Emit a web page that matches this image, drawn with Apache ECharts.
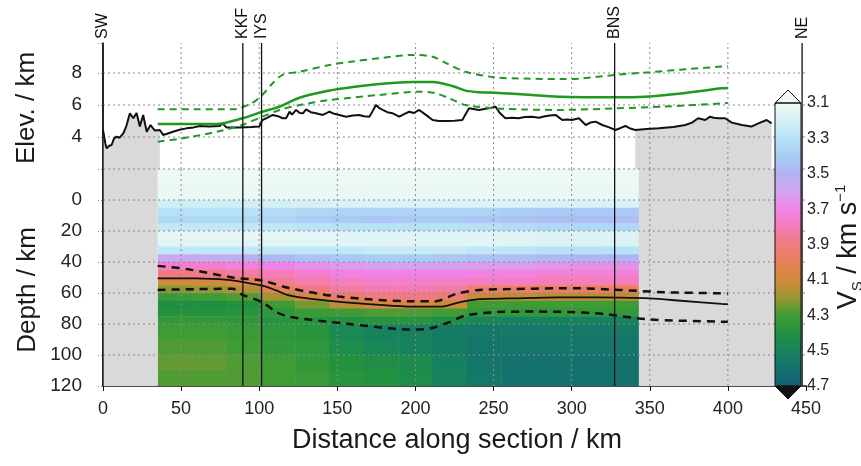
<!DOCTYPE html>
<html>
<head>
<meta charset="utf-8">
<script src="https://cdn.jsdelivr.net/npm/echarts@6/dist/echarts.min.js"></script>
<style>
  html, body { margin: 0; padding: 0; background: #fff; }
  #chart { width: 861px; height: 466px; }
</style>
</head>
<body>
<div id="chart"></div>
<script>
// stations along the profile (km)
var stationNames = ['SW', 'KKF', 'IYS', 'BNS', 'NE'];
var stationKm = [0, 89.5, 101.5, 327.5, 447.5];

// topography (km along section, elevation km)
var topography = [[0,4.44],[1.5,3.6],[2.3,3.29],[4,3.45],[5.5,3.5],[7,3.9],[8.7,4.02],[10.5,3.95],[13,4.23],[15,4.7],
  [17.2,5.48],[19.4,5.17],[21.5,5.5],[23.6,4.65],[25.7,5.38],[28,4.33],[30.4,4.75],[33.2,4.4],[36.4,4.44],[38.5,4.13],
  [41,4.2],[44.8,4.33],[49,4.45],[53.4,4.54],[58,4.6],[62,4.69],[68,4.65],[74.7,4.69],[76.5,4.85],[79,4.6],[87.5,4.6],
  [95,4.62],[100,4.65],[102,5.06],[105,5.2],[108.6,5.38],[112,5.3],[115,5.17],[117.2,5.17],[119.4,5.58],[121,5.4],
  [123.6,5.69],[126,5.5],[128,5.48],[130,5.73],[133,5.55],[136.4,5.48],[140.7,5.38],[145,5.58],[148,5.45],[151.3,5.38],
  [155.6,5.27],[160,5.35],[164,5.38],[167,5.3],[170.5,5.27],[172.5,5.6],[174.7,6.0],[177,5.8],[179,5.69],[182,5.55],
  [185.4,5.48],[189.7,5.27],[193,5.45],[196,5.58],[199,5.5],[202.4,5.69],[206.7,5.38],[211,5.06],[215,5.0],[219.5,5.0],
  [225,5.02],[230,5.06],[232,5.4],[234.3,5.79],[237,5.75],[240.7,5.69],[244,5.75],[247,5.79],[251.2,5.9],[254,5.5],
  [257.6,5.17],[262,5.2],[266,5.17],[270,5.25],[274.6,5.27],[279,5.2],[283,5.3],[286,5.35],[289.7,5.38],[294,5.06],
  [297,5.1],[300.3,5.06],[304.6,5.17],[309,4.75],[312,4.9],[315.3,4.96],[319.6,4.75],[324,4.6],[328,4.44],[331,4.55],
  [334.4,4.69],[337,4.55],[340.7,4.44],[348,4.5],[355.7,4.54],[365,4.62],[372.7,4.75],[377,4.9],[381,5.17],[385.5,5.06],
  [388.6,5.27],[391,5.2],[394,5.17],[398.2,5.17],[402.5,4.9],[409,4.75],[415,4.65],[419.5,4.85],[424.8,5.06],[428,4.85]];

// green curves in the elevation panel
var greenMid = [[35,4.81],[50,4.81],[72.8,4.81],[89.4,5.17],[102,5.58],[113,5.9],[125.8,6.45],[145,6.9],[160,7.12],
  [177,7.31],[198,7.44],[211,7.44],[223.5,7.19],[232,6.9],[241,6.8],[251,6.77],[270,6.65],[292,6.52],[328,6.48],
  [347,6.52],[370,6.72],[396,7.04],[400,7.07]];
var greenUpper = [[35,5.73],[60,5.73],[83,5.73],[95,6.1],[102,6.63],[108,7.3],[115,7.88],[126,8.08],[145,8.5],
  [160,8.72],[177,8.92],[198,9.13],[211,9.02],[220,8.6],[232,8.08],[251,7.73],[270,7.65],[292,7.62],[305,7.65],
  [328,7.88],[350,8.05],[375,8.25],[396,8.4],[400,8.42]];
var greenLower = [[35,3.71],[50,3.9],[72.8,4.33],[89,4.75],[102,5.27],[113,5.69],[126,6.0],[145,6.31],[177,6.63],
  [202.5,6.83],[213,6.73],[222,6.4],[232,6.0],[251,5.79],[270,5.72],[292,5.69],[328,5.79],[360,5.9],[396,6.1],[400,6.12]];

// Moho depth and its bounds (km)
var mohoMid = [[35,50.5],[60,50.5],[80,51.5],[90,53],[102,55.3],[110,58],[119,61.5],[135,64],[150,65.5],[175,67.5],
  [198,68.8],[217,68.8],[228,66],[241,64],[260,63.5],[292,62.8],[305,62.8],[330,63],[350,63.5],[370,65],[396,67],[400,67.2]];
var mohoUpper = [[35,42.5],[54,44.6],[83,50],[102,52],[119,56.8],[151,62.3],[198,65.3],[213,65.3],[226,60.6],[241,58],
  [260,57.5],[292,57],[305,57],[330,58],[360,59.5],[396,60.2],[400,60.3]];
var mohoLower = [[35,58],[60,57.5],[83,57.3],[89,61],[102,66],[111,72.3],[119,75.3],[156,79.8],[198,83.6],[209,83],
  [222,78.7],[232,74.5],[253,72.3],[279,72],[300,72.3],[320,73.5],[349,77],[396,78.5],[400,78.6]];

// Vs model: column edges (km), depth edges (km), one row of Vs per depth band
var colEdges = [35,57,79,101,123,145,167,189,211,233,255,277,299,321,343];
var depthEdges = [-20,-10,0,5,10,15,20,25,30,35,40,45,50,55,60,65,70,75,80,90,100,110,120];
var vsRows = [
  [3.1,3.1,3.1,3.1,3.1,3.1,3.1,3.1,3.1,3.1,3.1,3.1,3.1,3.1],
  [3.12,3.12,3.12,3.12,3.12,3.12,3.12,3.12,3.12,3.12,3.12,3.12,3.12,3.12],
  [3.22,3.22,3.22,3.21,3.2,3.19,3.18,3.18,3.18,3.18,3.18,3.19,3.19,3.19],
  [3.3,3.3,3.3,3.32,3.34,3.36,3.37,3.37,3.36,3.37,3.38,3.4,3.4,3.4],
  [3.34,3.34,3.34,3.36,3.39,3.41,3.42,3.41,3.41,3.42,3.44,3.46,3.46,3.46],
  [3.26,3.26,3.26,3.27,3.29,3.3,3.3,3.3,3.3,3.31,3.33,3.35,3.35,3.35],
  [3.13,3.13,3.13,3.13,3.14,3.15,3.15,3.15,3.15,3.15,3.16,3.17,3.17,3.17],
  [3.16,3.16,3.16,3.16,3.16,3.16,3.15,3.15,3.15,3.15,3.16,3.18,3.19,3.19],
  [3.27,3.27,3.27,3.27,3.27,3.27,3.25,3.25,3.25,3.27,3.28,3.3,3.3,3.3],
  [3.56,3.56,3.54,3.48,3.44,3.42,3.4,3.4,3.42,3.44,3.46,3.48,3.5,3.5],
  [3.76,3.76,3.74,3.7,3.66,3.62,3.6,3.6,3.6,3.62,3.62,3.64,3.66,3.66],
  [3.9,3.88,3.84,3.8,3.76,3.72,3.7,3.7,3.7,3.72,3.72,3.74,3.74,3.74],
  [4.1,4.08,4.0,3.86,3.82,3.78,3.76,3.76,3.76,3.78,3.78,3.8,3.8,3.8],
  [4.22,4.2,4.16,4.02,3.9,3.84,3.82,3.82,3.84,3.95,3.96,3.98,3.98,3.98],
  [4.32,4.3,4.28,4.18,4.06,3.96,3.9,3.9,3.94,4.12,4.14,4.14,4.14,4.14],
  [4.42,4.42,4.4,4.3,4.24,4.14,4.08,4.08,4.12,4.3,4.3,4.3,4.3,4.3],
  [4.4,4.4,4.38,4.36,4.32,4.3,4.28,4.28,4.3,4.34,4.34,4.34,4.34,4.34],
  [4.34,4.34,4.36,4.38,4.38,4.4,4.38,4.38,4.42,4.48,4.5,4.5,4.5,4.5],
  [4.3,4.3,4.32,4.36,4.38,4.46,4.5,4.52,4.54,4.56,4.56,4.56,4.56,4.56],
  [4.28,4.28,4.3,4.34,4.36,4.44,4.48,4.5,4.54,4.58,4.58,4.58,4.58,4.58],
  [4.26,4.26,4.28,4.3,4.34,4.4,4.42,4.45,4.52,4.58,4.6,4.6,4.6,4.6],
  [4.28,4.28,4.28,4.3,4.32,4.38,4.4,4.44,4.5,4.56,4.6,4.6,4.6,4.6]
];
// parts of the section with no model (grey)
var maskRanges = [[0, 35], [343, 447.5]];

// grid-line positions
var xTicks = [50, 100, 150, 200, 250, 300, 350, 400];
var elevTicks = [4, 6, 8];
var depthTicks = [-20, 0, 20, 40, 60, 80, 100];

// colour bar
var vsTickLabels = ['3.1','3.3','3.5','3.7','3.9','4.1','4.3','4.5','4.7'];
var vsColors = ['#eef9f5','#d6f1f6','#b6e2f5','#a9ccf5','#b1b3f3','#d4a3ef','#f183e8','#f57db9','#f07a80',
  '#e98058','#d2893a','#9a9630','#3f9c35','#22923f','#17835e','#13726e','#155d7a'];

var elevMin = 2, elevMax = 9.875;
var depthMin = -20, depthMax = 120;
var xMin = 0, xMax = 450;
var FONT = 'Liberation Sans, Arial, sans-serif';
var GREY = '#d9d9d9';

var fieldData = [];
vsRows.forEach(function (row, r) {
  row.forEach(function (v, c) {
    fieldData.push([colEdges[c], colEdges[c + 1], depthEdges[r], depthEdges[r + 1], v]);
  });
});
var maskData = maskRanges.map(function (m) { return [m[0], m[1], depthMin, depthMax]; });
var topoLeft = topography.filter(function (p) { return p[0] <= 36.5; });
var topoRight = topography.filter(function (p) { return p[0] >= 340; });

function gridSegments(yLo, yHi, yTicks) {
  var segs = xTicks.map(function (x) { return [x, yLo, x, yHi]; });
  yTicks.forEach(function (y) { segs.push([xMin, y, xMax, y]); });
  return segs;
}

function renderCell(params, api) {
  var p0 = api.coord([api.value(0), api.value(2)]);
  var p1 = api.coord([api.value(1), api.value(3)]);
  return {
    type: 'rect',
    shape: { x: p0[0], y: p0[1], width: p1[0] - p0[0] + 0.5, height: p1[1] - p0[1] + 0.5 },
    style: { fill: api.visual('color') }
  };
}
function renderMask(params, api) {
  var p0 = api.coord([api.value(0), api.value(2)]);
  var p1 = api.coord([api.value(1), api.value(3)]);
  return {
    type: 'rect',
    shape: { x: p0[0], y: p0[1], width: p1[0] - p0[0], height: p1[1] - p0[1] },
    style: { fill: GREY }
  };
}
function renderDotted(params, api) {
  var a = api.coord([api.value(0), api.value(1)]);
  var b = api.coord([api.value(2), api.value(3)]);
  return { type: 'line', shape: { x1: a[0], y1: a[1], x2: b[0], y2: b[1] },
    style: { stroke: '#8a8a8a', lineWidth: 1, lineDash: [2, 3] } };
}
function renderStationTop(params, api) {
  var k = api.value(0);
  var top = api.coord([k, elevMax]);
  var bot = api.coord([k, elevMin]);
  return {
    type: 'group',
    children: [
      { type: 'line', shape: { x1: top[0], y1: top[1], x2: bot[0], y2: bot[1] },
        style: { stroke: '#111', lineWidth: 1.3 } },
      { type: 'text', x: top[0], y: top[1] - 4, rotation: Math.PI / 2,
        style: { text: stationNames[params.dataIndex], align: 'left', verticalAlign: 'middle',
          textAlign: 'left', textVerticalAlign: 'middle', fontSize: 16, fontFamily: FONT, fill: '#111' } }
    ]
  };
}
function renderStationBottom(params, api) {
  var k = api.value(0);
  var top = api.coord([k, depthMin]);
  var bot = api.coord([k, depthMax]);
  return { type: 'line', shape: { x1: top[0], y1: top[1], x2: bot[0], y2: bot[1] },
    style: { stroke: '#111', lineWidth: 1.3 } };
}

var chart = echarts.init(document.getElementById('chart'), null, { renderer: 'canvas' });
chart.setOption({
  animation: false,
  backgroundColor: '#fff',
  textStyle: { fontFamily: FONT },
  grid: [
    { left: 103, right: 55, top: 43, height: 126 },
    { left: 103, right: 55, top: 169, height: 217 },
    { left: 775, width: 26, top: 103, height: 283 }
  ],
  xAxis: [
    { type: 'value', gridIndex: 0, min: xMin, max: xMax, interval: 50,
      axisLine: { show: false }, axisTick: { show: false }, axisLabel: { show: false }, splitLine: { show: false } },
    { type: 'value', gridIndex: 1, min: xMin, max: xMax, interval: 50,
      axisLine: { onZero: false, lineStyle: { color: '#111', width: 1.5 } },
      axisTick: { length: 5, lineStyle: { color: '#111' } },
      axisLabel: { fontSize: 18, color: '#222', margin: 14 },
      splitLine: { show: false } },
    { type: 'value', gridIndex: 2, min: 0, max: 1, show: false }
  ],
  yAxis: [
    { type: 'value', gridIndex: 0, min: elevMin, max: elevMax, interval: 2,
      axisLine: { show: true, lineStyle: { color: '#111', width: 1.5 } },
      axisTick: { show: true, length: 5, lineStyle: { color: '#8a8a8a', type: [2, 2] } },
      axisLabel: { fontSize: 19, color: '#222', margin: 21,
        formatter: function (v) { return (v >= 4 && v <= 8) ? String(v) : ''; } },
      splitLine: { show: false } },
    { type: 'value', gridIndex: 1, min: depthMin, max: depthMax, interval: 20, inverse: true,
      axisLine: { show: true, onZero: false, lineStyle: { color: '#111', width: 1.5 } },
      axisTick: { show: true, length: 5, lineStyle: { color: '#8a8a8a', type: [2, 2] } },
      axisLabel: { fontSize: 19, color: '#222', margin: 21,
        formatter: function (v) { return v >= 0 ? String(v) : ''; } },
      splitLine: { show: false } },
    { type: 'category', gridIndex: 2, data: vsTickLabels, boundaryGap: false, inverse: true, position: 'right',
      axisLine: { show: true, lineStyle: { color: '#111', width: 1 } },
      axisTick: { show: true, length: 3, lineStyle: { color: '#111' } },
      axisLabel: { fontSize: 16, color: '#222', margin: 6 },
      splitLine: { show: false } }
  ],
  visualMap: {
    type: 'continuous', seriesIndex: 0, dimension: 4, min: 3.1, max: 4.7, inverse: true,
    inRange: { color: vsColors }, calculable: false, hoverLink: false,
    left: 775, top: 103, itemWidth: 26, itemHeight: 283, padding: 0, text: null
  },
  series: [
    { type: 'custom', name: 'Vs', xAxisIndex: 1, yAxisIndex: 1, renderItem: renderCell, data: fieldData,
      encode: { x: [0, 1], y: [2, 3] }, z: 1, silent: true, clip: true },
    { type: 'custom', xAxisIndex: 1, yAxisIndex: 1, renderItem: renderMask, data: maskData,
      encode: { x: [0, 1], y: [2, 3] }, z: 1, silent: true },
    { type: 'line', xAxisIndex: 0, yAxisIndex: 0, data: topoLeft, symbol: 'none', silent: true, z: 1,
      lineStyle: { width: 0 }, areaStyle: { color: GREY, opacity: 1, origin: 'start' } },
    { type: 'line', xAxisIndex: 0, yAxisIndex: 0, data: topoRight, symbol: 'none', silent: true, z: 1,
      lineStyle: { width: 0 }, areaStyle: { color: GREY, opacity: 1, origin: 'start' } },
    { type: 'custom', xAxisIndex: 0, yAxisIndex: 0, renderItem: renderDotted, silent: true, z: 2,
      data: gridSegments(elevMin, elevMax, elevTicks) },
    { type: 'custom', xAxisIndex: 1, yAxisIndex: 1, renderItem: renderDotted, silent: true, z: 2,
      data: gridSegments(depthMin, depthMax, depthTicks) },
    { type: 'line', xAxisIndex: 0, yAxisIndex: 0, data: topography, symbol: 'none', silent: true, z: 3,
      lineStyle: { color: '#111', width: 2 } },
    { type: 'line', xAxisIndex: 0, yAxisIndex: 0, data: greenMid, symbol: 'none', silent: true, z: 3,
      smooth: 0.3, lineStyle: { color: '#1e9a1e', width: 2.5 } },
    { type: 'line', xAxisIndex: 0, yAxisIndex: 0, data: greenUpper, symbol: 'none', silent: true, z: 3,
      smooth: 0.3, lineStyle: { color: '#1e9a1e', width: 2, type: [7, 5] } },
    { type: 'line', xAxisIndex: 0, yAxisIndex: 0, data: greenLower, symbol: 'none', silent: true, z: 3,
      smooth: 0.3, lineStyle: { color: '#1e9a1e', width: 2, type: [7, 5] } },
    { type: 'line', xAxisIndex: 1, yAxisIndex: 1, data: mohoMid, symbol: 'none', silent: true, z: 3,
      smooth: 0.3, lineStyle: { color: '#111', width: 1.8 } },
    { type: 'line', xAxisIndex: 1, yAxisIndex: 1, data: mohoUpper, symbol: 'none', silent: true, z: 3,
      smooth: 0.3, lineStyle: { color: '#111', width: 2.5, type: [8, 6] } },
    { type: 'line', xAxisIndex: 1, yAxisIndex: 1, data: mohoLower, symbol: 'none', silent: true, z: 3,
      smooth: 0.3, lineStyle: { color: '#111', width: 2.5, type: [8, 6] } },
    { type: 'custom', xAxisIndex: 0, yAxisIndex: 0, renderItem: renderStationTop, clip: false, silent: true, z: 4,
      data: stationKm.map(function (k) { return [k, elevMin]; }) },
    { type: 'custom', xAxisIndex: 1, yAxisIndex: 1, renderItem: renderStationBottom, clip: false, silent: true, z: 4,
      data: stationKm.map(function (k) { return [k, depthMin]; }) }
  ]
});

// colour bar frame and end arrows, placed from the colour-bar axes
var xL = chart.convertToPixel({ xAxisIndex: 2 }, 0);
var xR = chart.convertToPixel({ xAxisIndex: 2 }, 1);
var yT = chart.convertToPixel({ yAxisIndex: 2 }, 0);
var yB = chart.convertToPixel({ yAxisIndex: 2 }, vsTickLabels.length - 1);
var xM = (xL + xR) / 2;

function label(text, x, y, size, rot) {
  return { type: 'text', x: x, y: y, rotation: rot || 0, z: 100,
    style: { text: text, fontSize: size, fontFamily: FONT, fill: '#1a1a1a',
      align: 'center', verticalAlign: 'middle', textAlign: 'center', textVerticalAlign: 'middle' } };
}

chart.setOption({
  graphic: [
    { type: 'polygon', z: 100, shape: { points: [[xL, yT], [xM, yT - 13], [xR, yT]] },
      style: { fill: vsColors[0], stroke: '#111', lineWidth: 1 } },
    { type: 'polygon', z: 100, shape: { points: [[xL, yB], [xM, yB + 13], [xR, yB]] },
      style: { fill: '#111', stroke: '#111', lineWidth: 1 } },
    { type: 'rect', z: 100, shape: { x: xL, y: yT, width: xR - xL, height: yB - yT },
      style: { fill: null, stroke: '#111', lineWidth: 1 } },
    label('Elev. / km', 27, 108, 26, Math.PI / 2),
    label('Depth / km', 28, 290, 26, Math.PI / 2),
    label('Distance along section / km', 457, 441, 27, 0),
    { type: 'text', x: 849, y: 247, rotation: Math.PI / 2, z: 100,
      style: {
        text: '{v|V}{s|S}{n| / km s}{e|\u22121}',
        align: 'center', verticalAlign: 'middle', textAlign: 'center', textVerticalAlign: 'middle',
        fill: '#1a1a1a', fontFamily: FONT,
        rich: {
          v: { fontSize: 27, lineHeight: 32, fontFamily: FONT, fill: '#1a1a1a' },
          n: { fontSize: 27, lineHeight: 32, fontFamily: FONT, fill: '#1a1a1a' },
          s: { fontSize: 15, lineHeight: 15, verticalAlign: 'bottom', fontFamily: FONT, fill: '#1a1a1a' },
          e: { fontSize: 15, lineHeight: 15, verticalAlign: 'top', fontFamily: FONT, fill: '#1a1a1a' }
        }
      } }
  ]
});
</script>
</body>
</html>
